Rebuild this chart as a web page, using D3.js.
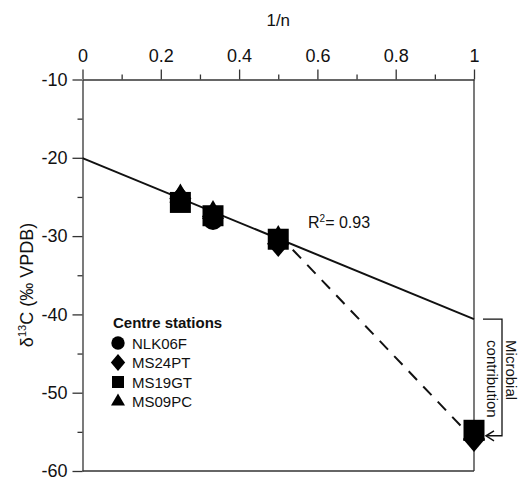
<!DOCTYPE html>
<html>
<head>
<meta charset="utf-8">
<script src="https://cdn.jsdelivr.net/npm/d3@7"></script>
<style>
  body { margin: 0; background: #fff; }
  svg { display: block; font-family: "Liberation Sans", Arial, Helvetica, sans-serif; }
</style>
</head>
<body>
<div id="chart"></div>
<script>
  var width = 521;
  var height = 479;

  // data
  var invN = [0.25, 1 / 3, 0.5, 1];
  var stations = ["NLK06F", "MS24PT", "MS19GT", "MS09PC"];
  var nlk06f = [-25.5, -27.95, -30.5, -55.3];
  var ms24pt = [-25.2, -27.5, -31.0, -55.9];
  var ms19gt = [-25.7, -27.4, -30.4, -54.8];
  var ms09pc = [-24.9, -27.0, -30.2, -55.3];
  var fitX = [0, 1];
  var fitY = [-20.05, -40.6];
  var mixX = [0.5, 1];
  var mixY = [-29.8, -56.0];
  var xMajor = [0, 0.2, 0.4, 0.6, 0.8, 1];
  var xMinor = [0.1, 0.3, 0.5, 0.7, 0.9];
  var yMajor = [-10, -20, -30, -40, -50, -60];
  var yMinor = [-15, -25, -35, -45, -55];

  var x = d3.scaleLinear().domain([0, 1]).range([82.5, 474]);
  var y = d3.scaleLinear().domain([-10, -60]).range([79.5, 471]);

  var svg = d3.select("#chart").append("svg")
      .attr("width", width)
      .attr("height", height);

  // marker shapes
  var diamond = { draw: function(ctx, s) {
    var w = Math.sqrt(s) * 0.78, h = Math.sqrt(s) * 0.92;
    ctx.moveTo(0, -h); ctx.lineTo(w, 0); ctx.lineTo(0, h); ctx.lineTo(-w, 0); ctx.closePath();
  }};
  var shapes = [d3.symbolCircle, diamond, d3.symbolSquare, d3.symbolTriangle];
  var sizes = [314, 200, 441, 210];
  var legendSizes = [140, 85, 145, 85];
  var series = [nlk06f, ms24pt, ms19gt, ms09pc];

  // frame: bottom + right
  svg.append("line").attr("x1", x(0)).attr("x2", x(1)).attr("y1", y(-60)).attr("y2", y(-60))
     .attr("stroke", "#333").attr("stroke-width", 1.3);
  svg.append("line").attr("x1", x(1)).attr("x2", x(1)).attr("y1", y(-10)).attr("y2", y(-60))
     .attr("stroke", "#333").attr("stroke-width", 1.3);

  // top axis
  svg.append("g").attr("transform", "translate(0," + y(-10) + ")")
      .call(d3.axisTop(x).tickValues(xMajor).tickSize(10).tickSizeOuter(0).tickPadding(8)
            .tickFormat(function(d) { return String(d); }));
  svg.append("g").attr("transform", "translate(0," + y(-10) + ")")
      .call(d3.axisTop(x).tickValues(xMinor).tickSize(5).tickFormat(""))
      .select(".domain").remove();

  // left axis
  svg.append("g").attr("transform", "translate(" + x(0) + ",0)")
      .call(d3.axisLeft(y).tickValues(yMajor).tickSize(10).tickSizeOuter(0).tickPadding(5)
            .tickFormat(function(d) { return String(d); }));
  svg.append("g").attr("transform", "translate(" + x(0) + ",0)")
      .call(d3.axisLeft(y).tickValues(yMinor).tickSize(5).tickFormat(""))
      .select(".domain").remove();

  svg.selectAll(".tick text").attr("font-size", 18).attr("fill", "#111")
     .attr("font-family", "Liberation Sans, Arial, sans-serif");
  svg.selectAll(".tick line").attr("stroke", "#333").attr("stroke-width", 1.3);
  svg.selectAll(".domain").attr("stroke", "#333").attr("stroke-width", 1.3);

  // axis titles
  svg.append("text").attr("x", x(0.5)).attr("y", 26).attr("text-anchor", "middle")
     .attr("font-size", 17).attr("fill", "#111").text("1/n");
  var yl = svg.append("text").attr("transform", "translate(33," + 285 + ") rotate(-90)")
     .attr("text-anchor", "middle").attr("font-size", 18).attr("fill", "#111");
  yl.append("tspan").text("\u03b4");
  yl.append("tspan").attr("font-size", 11).attr("dy", -7).text("13");
  yl.append("tspan").attr("dy", 7).text("C (\u2030 VPDB)");

  // regression line and mixing line
  svg.append("line").attr("x1", x(fitX[0])).attr("y1", y(fitY[0]))
     .attr("x2", x(fitX[1])).attr("y2", y(fitY[1]))
     .attr("stroke", "#111").attr("stroke-width", 2);
  svg.append("line").attr("x1", x(mixX[0])).attr("y1", y(mixY[0]))
     .attr("x2", x(mixX[1])).attr("y2", y(mixY[1]))
     .attr("stroke", "#111").attr("stroke-width", 2).attr("stroke-dasharray", "12,9");

  // points
  series.forEach(function(vals, i) {
    svg.append("g").selectAll("path").data(vals).enter().append("path")
      .attr("transform", function(d, j) { return "translate(" + x(invN[j]) + "," + y(d) + ")"; })
      .attr("d", d3.symbol().type(shapes[i]).size(sizes[i]))
      .attr("fill", "#000");
  });

  // R2 label
  var r2 = svg.append("text").attr("x", 308).attr("y", 228).attr("font-size", 16).attr("fill", "#111");
  r2.append("tspan").text("R");
  r2.append("tspan").attr("font-size", 10).attr("dy", -6).text("2");
  r2.append("tspan").attr("dy", 6).text("= 0.93");

  // microbial contribution bracket
  var yTop = y(fitY[1]), yBot = y(-55.5);
  svg.append("path")
     .attr("d", "M" + (x(1) + 9) + "," + yTop + "H" + (x(1) + 28) + "V" + yBot + "H" + (x(1) + 12))
     .attr("fill", "none").attr("stroke", "#111").attr("stroke-width", 1.3);
  svg.append("path")
     .attr("d", "M" + (x(1) + 20) + "," + (yBot - 5) + "L" + (x(1) + 12) + "," + yBot + "L" + (x(1) + 20) + "," + (yBot + 5))
     .attr("fill", "none").attr("stroke", "#111").attr("stroke-width", 1.5);
  var mc = svg.append("text").attr("transform", "translate(" + (x(1) + 21) + "," + (yTop + 21) + ") rotate(90)")
     .attr("text-anchor", "start").attr("font-size", 15).attr("fill", "#111");
  mc.append("tspan").attr("x", 0).attr("dy", -11).text("Microbial");
  mc.append("tspan").attr("x", 0).attr("dy", 19).text("contribution");

  // legend
  var lg = svg.append("g").attr("transform", "translate(113,328)");
  lg.append("text").attr("font-size", 15).attr("font-weight", "bold").attr("fill", "#111").text("Centre stations");
  stations.forEach(function(s, i) {
    var row = lg.append("g").attr("transform", "translate(0," + (15 + i * 19.5) + ")");
    row.append("path").attr("transform", "translate(5,0)")
       .attr("d", d3.symbol().type(shapes[i]).size(legendSizes[i])).attr("fill", "#000");
    row.append("text").attr("x", 19).attr("y", 5.5).attr("font-size", 15).attr("fill", "#111").text(s);
  });
</script>
</body>
</html>
